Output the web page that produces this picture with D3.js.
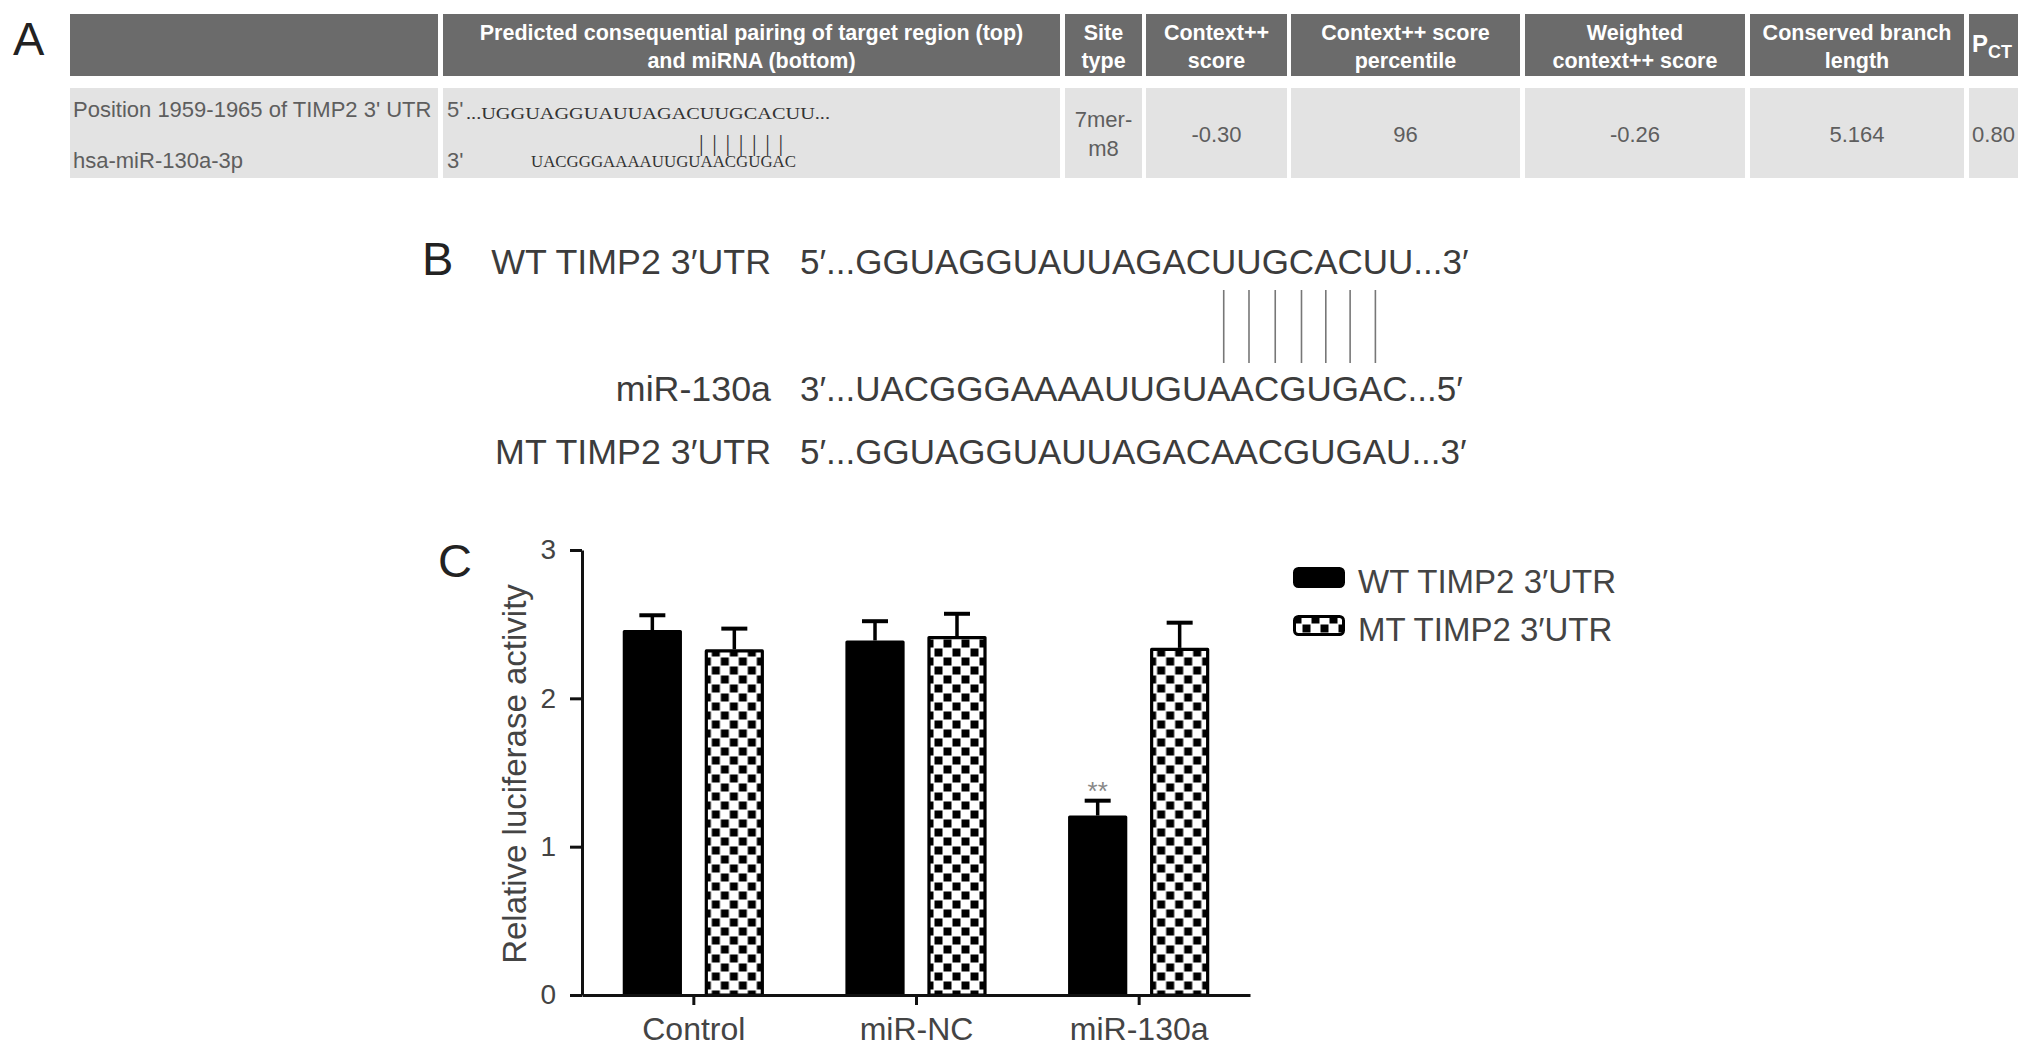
<!DOCTYPE html>
<html>
<head>
<meta charset="utf-8">
<script src="https://cdn.jsdelivr.net/npm/d3@7"></script>
<style>
  body { margin: 0; background: #fff; }
</style>
</head>
<body>
<div id="figure"></div>
<script>
// Panel A: TargetScan table
var tableHeaders = [
  [""],
  ["Predicted consequential pairing of target region (top)", "and miRNA (bottom)"],
  ["Site", "type"],
  ["Context++", "score"],
  ["Context++ score", "percentile"],
  ["Weighted", "context++ score"],
  ["Conserved branch", "length"]
];
var rowLabels = ["Position 1959-1965 of TIMP2 3' UTR", "hsa-miR-130a-3p"];
var rowPrimes = ["5'", "3'"];
var targetSeq = "...UGGUAGGUAUUAGACUUGCACUU...";
var mirnaSeq = "UACGGGAAAAUUGUAACGUGAC";
var pairBars = "|||||||";
var siteType = ["7mer-", "m8"];
var rowValues = ["-0.30", "96", "-0.26", "5.164", "0.80"];

// Panel B: sequences
var seqLabels = ["WT TIMP2 3\u2032UTR", "miR-130a", "MT TIMP2 3\u2032UTR"];
var seqStrings = [
  "5\u2032...GGUAGGUAUUAGACUUGCACUU...3\u2032",
  "3\u2032...UACGGGAAAAUUGUAACGUGAC...5\u2032",
  "5\u2032...GGUAGGUAUUAGACAACGUGAU...3\u2032"
];
var pairedIndex = [19, 20, 21, 22, 23, 24, 25];

// Panel C: luciferase assay
var categories = ["Control", "miR-NC", "miR-130a"];
var seriesNames = ["WT TIMP2 3\u2032UTR", "MT TIMP2 3\u2032UTR"];
var wtValues = [2.46, 2.39, 1.21];
var wtErrors = [0.10, 0.13, 0.10];
var mtValues = [2.33, 2.42, 2.34];
var mtErrors = [0.14, 0.15, 0.17];
var wtMarks = ["", "", "**"];
var yTicks = [0, 1, 2, 3];

var svgWidth = 2032;
var svgHeight = 1054;
var sans = "Liberation Sans, Arial, sans-serif";
var serif = "Liberation Serif, Times New Roman, serif";

var svg = d3.select("#figure")
  .append("svg")
  .attr("width", svgWidth)
  .attr("height", svgHeight)
  .attr("font-family", sans)
  .style("display", "block");

svg.append("rect").attr("width", svgWidth).attr("height", svgHeight).attr("fill", "#fff");

// checker pattern for MT bars
var defs = svg.append("defs");
var pat = defs.append("pattern")
  .attr("id", "checker")
  .attr("patternUnits", "userSpaceOnUse")
  .attr("width", 18)
  .attr("height", 18);
pat.append("rect").attr("width", 18).attr("height", 18).attr("fill", "#fff");
pat.append("rect").attr("x", 0.5).attr("y", 0.5).attr("width", 8).attr("height", 8).attr("fill", "#000");
pat.append("rect").attr("x", 9.5).attr("y", 9.5).attr("width", 8).attr("height", 8).attr("fill", "#000");

// panel letters
var panelLetters = [["A", 13, 55], ["B", 422, 275], ["C", 438, 577]];
svg.selectAll(".panel-letter")
  .data(panelLetters)
  .enter()
  .append("text")
  .attr("class", "panel-letter")
  .attr("x", d => d[1])
  .attr("y", d => d[2])
  .attr("font-size", 47)
  .attr("fill", "#222")
  .text(d => d[0]);

// ==============================
// Panel A
// ==============================
var colSpans = [[70, 438], [443, 1060], [1065, 1142], [1146, 1287], [1291, 1520], [1525, 1745], [1750, 1964], [1969, 2018]];
var headTop = 14, headBottom = 76, rowTop = 88, rowBottom = 178;

var tableG = svg.append("g");

tableG.selectAll(".head-cell")
  .data(colSpans)
  .enter()
  .append("rect")
  .attr("x", d => d[0])
  .attr("y", headTop)
  .attr("width", d => d[1] - d[0])
  .attr("height", headBottom - headTop)
  .attr("fill", "#6b6b6b");

tableG.selectAll(".row-cell")
  .data(colSpans)
  .enter()
  .append("rect")
  .attr("x", d => d[0])
  .attr("y", rowTop)
  .attr("width", d => d[1] - d[0])
  .attr("height", rowBottom - rowTop)
  .attr("fill", "#e3e3e3");

// header text
tableHeaders.forEach(function(lines, i) {
  var cx = (colSpans[i][0] + colSpans[i][1]) / 2;
  lines.forEach(function(line, j) {
    tableG.append("text")
      .attr("x", cx)
      .attr("y", 40 + j * 28)
      .attr("text-anchor", "middle")
      .attr("font-size", 21.5)
      .attr("font-weight", "bold")
      .attr("fill", "#fff")
      .text(line);
  });
});
var pct = tableG.append("text")
  .attr("x", 1972)
  .attr("y", 52)
  .attr("font-weight", "bold")
  .attr("fill", "#fff");
pct.append("tspan").attr("font-size", 24).text("P");
pct.append("tspan").attr("font-size", 18).attr("dy", 6).text("CT");

// data row
tableG.selectAll(".row-label")
  .data(rowLabels)
  .enter()
  .append("text")
  .attr("x", 73)
  .attr("y", (d, i) => 117 + i * 51)
  .attr("font-size", 22)
  .attr("fill", "#5e5e5e")
  .text(d => d);

tableG.selectAll(".row-prime")
  .data(rowPrimes)
  .enter()
  .append("text")
  .attr("x", 447)
  .attr("y", (d, i) => 117 + i * 51)
  .attr("font-size", 22)
  .attr("fill", "#5e5e5e")
  .text(d => d);

tableG.append("text")
  .attr("x", 466).attr("y", 119)
  .attr("font-family", serif)
  .attr("font-size", 17)
  .attr("fill", "#333")
  .attr("textLength", 364)
  .attr("lengthAdjust", "spacingAndGlyphs")
  .text(targetSeq);

tableG.append("text")
  .attr("x", 699).attr("y", 151)
  .attr("font-family", serif)
  .attr("font-size", 23)
  .attr("fill", "#333")
  .attr("textLength", 84)
  .attr("lengthAdjust", "spacing")
  .text(pairBars);

tableG.append("text")
  .attr("x", 531).attr("y", 167)
  .attr("font-family", serif)
  .attr("font-size", 17)
  .attr("fill", "#333")
  .attr("textLength", 265)
  .attr("lengthAdjust", "spacingAndGlyphs")
  .text(mirnaSeq);

var siteX = (colSpans[2][0] + colSpans[2][1]) / 2;
tableG.selectAll(".site-type")
  .data(siteType)
  .enter()
  .append("text")
  .attr("x", siteX)
  .attr("y", (d, i) => 127 + i * 29)
  .attr("text-anchor", "middle")
  .attr("font-size", 22)
  .attr("fill", "#5e5e5e")
  .text(d => d);

tableG.selectAll(".row-value")
  .data(rowValues)
  .enter()
  .append("text")
  .attr("x", (d, i) => (colSpans[i + 3][0] + colSpans[i + 3][1]) / 2)
  .attr("y", 142)
  .attr("text-anchor", "middle")
  .attr("font-size", 22)
  .attr("fill", "#5e5e5e")
  .text(d => d);

// ==============================
// Panel B
// ==============================
var seqBaselines = [274, 401, 464];
var bG = svg.append("g");

bG.selectAll(".seq-label")
  .data(seqLabels)
  .enter()
  .append("text")
  .attr("x", 771)
  .attr("y", (d, i) => seqBaselines[i])
  .attr("text-anchor", "end")
  .attr("font-size", 35.8)
  .attr("fill", "#3c3c3c")
  .text(d => d);

var seqTexts = bG.selectAll(".seq")
  .data(seqStrings)
  .enter()
  .append("text")
  .attr("x", 800)
  .attr("y", (d, i) => seqBaselines[i])
  .attr("font-size", 35)
  .attr("fill", "#3c3c3c")
  .text(d => d);

// pairing lines under the seed match of the WT sequence
var wtNode = seqTexts.nodes()[0];
bG.selectAll(".pair")
  .data(pairedIndex)
  .enter()
  .append("line")
  .attr("x1", d => { var b = wtNode.getExtentOfChar(d); return b.x + b.width / 2; })
  .attr("x2", d => { var b = wtNode.getExtentOfChar(d); return b.x + b.width / 2; })
  .attr("y1", 290)
  .attr("y2", 363)
  .attr("stroke", "#777")
  .attr("stroke-width", 1.6);

// ==============================
// Panel C
// ==============================
var chartData = categories.map(function(c, i) {
  return {
    category: c,
    bars: [
      { key: "WT", value: wtValues[i], err: wtErrors[i], mark: wtMarks[i] },
      { key: "MT", value: mtValues[i], err: mtErrors[i], mark: "" }
    ]
  };
});

var yScale = d3.scaleLinear().domain([0, 3]).range([995, 550]);
var xScale = d3.scalePoint().domain(categories).range([582, 1250]).padding(0.5);
var subScale = d3.scaleBand().domain(["WT", "MT"]).range([-70.5, 70.5]).paddingInner(0.28);
var bw = subScale.bandwidth();

var cG = svg.append("g");

var groups = cG.selectAll(".cat")
  .data(chartData)
  .enter()
  .append("g")
  .attr("transform", d => `translate(${xScale(d.category)},0)`);

var bars = groups.selectAll(".bar")
  .data(d => d.bars)
  .enter();

bars.append("rect")
  .attr("x", d => subScale(d.key) + 1.5)
  .attr("y", d => yScale(d.value) + 1.5)
  .attr("width", bw - 3)
  .attr("height", d => yScale(0) - yScale(d.value) - 1.5)
  .attr("fill", d => d.key === "WT" ? "#000" : "url(#checker)")
  .attr("stroke", "#000")
  .attr("stroke-width", 3.2)
  .attr("stroke-linejoin", "round");

// error bars
bars.append("line")
  .attr("x1", d => subScale(d.key) + bw / 2)
  .attr("x2", d => subScale(d.key) + bw / 2)
  .attr("y1", d => yScale(d.value))
  .attr("y2", d => yScale(d.value + d.err))
  .attr("stroke", "#000")
  .attr("stroke-width", 3.5);

bars.append("line")
  .attr("x1", d => subScale(d.key) + bw / 2 - 13)
  .attr("x2", d => subScale(d.key) + bw / 2 + 13)
  .attr("y1", d => yScale(d.value + d.err))
  .attr("y2", d => yScale(d.value + d.err))
  .attr("stroke", "#000")
  .attr("stroke-width", 4);

bars.append("text")
  .attr("x", d => subScale(d.key) + bw / 2)
  .attr("y", d => yScale(d.value + d.err) - 1)
  .attr("text-anchor", "middle")
  .attr("font-size", 26)
  .attr("fill", "#888")
  .text(d => d.mark);

// axes
var leftAxis = d3.axisLeft(yScale).tickValues(yTicks).tickSize(12).tickSizeOuter(0).tickPadding(14).tickFormat(d3.format("d"));
var bottomAxis = d3.axisBottom(xScale).tickSize(10).tickSizeOuter(0).tickPadding(12);

var yAxisG = cG.append("g")
  .attr("transform", "translate(582,0)")
  .call(leftAxis);
var xAxisG = cG.append("g")
  .attr("transform", "translate(0,995)")
  .call(bottomAxis);

[yAxisG, xAxisG].forEach(function(g) {
  g.attr("font-family", sans);
  g.selectAll("path, line").attr("stroke", "#111").attr("stroke-width", 3);
  g.selectAll("text").attr("fill", "#444");
});
yAxisG.attr("font-size", 28);
xAxisG.attr("font-size", 32);

// axis label
cG.append("text")
  .attr("transform", "translate(526,774) rotate(-90)")
  .attr("text-anchor", "middle")
  .attr("font-size", 33)
  .attr("fill", "#444")
  .text("Relative luciferase activity");

// legend
var legend = cG.selectAll(".legend")
  .data(seriesNames)
  .enter()
  .append("g")
  .attr("transform", (d, i) => `translate(1293,${567 + i * 48})`);

legend.append("rect")
  .attr("x", 1.5).attr("y", 1.5)
  .attr("width", 49).attr("height", 18)
  .attr("rx", 4)
  .attr("fill", (d, i) => i === 0 ? "#000" : "url(#checker)")
  .attr("stroke", "#000")
  .attr("stroke-width", 3);

legend.append("text")
  .attr("x", 65)
  .attr("y", 26)
  .attr("font-size", 33)
  .attr("fill", "#444")
  .text(d => d);
</script>
</body>
</html>
